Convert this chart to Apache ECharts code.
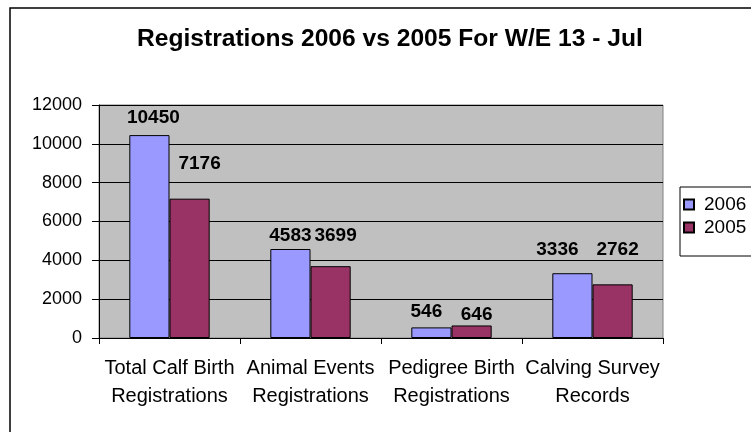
<!DOCTYPE html>
<html>
<head>
<meta charset="utf-8">
<script src="https://cdn.jsdelivr.net/npm/echarts@6/dist/echarts.min.js"></script>
<style>html,body{margin:0;padding:0;background:#fff;}#c{width:751px;height:432px;}</style>
</head>
<body>
<div id="c"></div>
<script>
var titleText = 'Registrations 2006 vs 2005 For W/E 13 - Jul';
var categories = ['Total Calf Birth\nRegistrations', 'Animal Events\nRegistrations', 'Pedigree Birth\nRegistrations', 'Calving Survey\nRecords'];
var series2006 = [10450, 4583, 546, 3336];
var series2005 = [7176, 3699, 646, 2762];
var yTicks = [0, 2000, 4000, 6000, 8000, 10000, 12000];

var chart = echarts.init(document.getElementById('c'), null, {renderer: 'canvas'});
var FONT = 'Liberation Sans, Arial, sans-serif';
var baseLabel = {
  show: true, position: 'top',
  fontFamily: FONT, fontSize: 19, fontWeight: 'bold', color: '#000'
};
// label placement (style only) as in the original, where labels were nudged individually
function withLabels(values, distances, shifts) {
  return values.map(function (v, i) {
    return {value: v, label: {distance: distances[i], offset: [shifts[i], 0]}};
  });
}
chart.setOption({
  backgroundColor: '#fff',
  animation: false,
  title: {
    text: titleText, left: 132, top: 22,
    textStyle: {fontFamily: FONT, fontSize: 24.6, fontWeight: 'bold', color: '#000'}
  },
  graphic: [{
    type: 'rect', shape: {x: 10, y: 8, width: 800, height: 500},
    style: {fill: 'none', stroke: '#000', lineWidth: 1.5}, z: 100, silent: true
  }],
  legend: {
    orient: 'vertical', left: 680, top: 187,
    padding: [8, 20, 19, 3], itemGap: 4, itemWidth: 10, itemHeight: 10,
    borderColor: '#000', borderWidth: 1,
    icon: 'rect',
    textStyle: {fontFamily: FONT, fontSize: 19, color: '#000', padding: [0, 0, 0, 5]},
    data: ['2006', '2005']
  },
  grid: {left: 99, right: 88, top: 105, bottom: 94, show: true, backgroundColor: '#C0C0C0', borderColor: '#808080', borderWidth: 1},
  xAxis: {
    type: 'category', data: categories,
    axisLine: {lineStyle: {color: '#000', width: 1}},
    axisTick: {show: true, alignWithLabel: false, length: 6, lineStyle: {color: '#000'}},
    axisLabel: {fontFamily: FONT, fontSize: 20, color: '#000', lineHeight: 28, margin: 16, interval: 0}
  },
  yAxis: {
    type: 'value', min: yTicks[0], max: yTicks[yTicks.length - 1], interval: yTicks[1] - yTicks[0],
    axisLine: {show: true, lineStyle: {color: '#000', width: 1}},
    axisTick: {show: true, length: 7, lineStyle: {color: '#000'}},
    splitLine: {show: true, lineStyle: {color: '#000', width: 1}},
    axisLabel: {fontFamily: FONT, fontSize: 18, color: '#000', margin: 17, formatter: function (v) { return String(v); }}
  },
  series: [{
    name: '2006', type: 'bar', barGap: '0%', barCategoryGap: '43%',
    data: withLabels(series2006, [8, 4, 6, 14], [4, 0, -5, -15]),
    itemStyle: {color: '#9999FF', borderColor: '#000', borderWidth: 1},
    label: baseLabel
  }, {
    name: '2005', type: 'bar', barGap: '0%', barCategoryGap: '43%',
    data: withLabels(series2005, [25, 21, 1, 25], [10, 5, 5, 5]),
    itemStyle: {color: '#993366', borderColor: '#000', borderWidth: 1},
    label: baseLabel
  }]
});
</script>
</body>
</html>
